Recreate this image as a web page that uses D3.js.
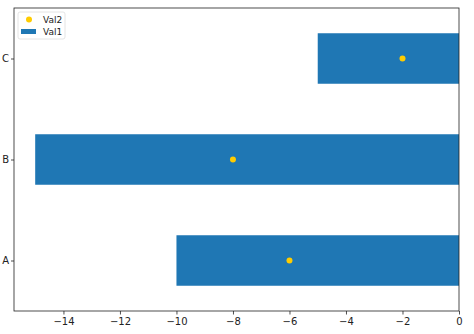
<!DOCTYPE html>
<html><head><meta charset="utf-8">
<script src="https://cdn.jsdelivr.net/npm/d3@7"></script>
<style>body{margin:0;background:#fff}svg{display:block}text{font-family:"DejaVu Sans",sans-serif}</style>
</head><body>
<script>
const categories = ["A","B","C"];
const val1 = [-10, -15, -5];
const val2 = [-6, -8, -2];
const xTicks = [-14,-12,-10,-8,-6,-4,-2,0];

const W=474,H=334;
const m={l:14,r:15,t:8,b:23};
const svg=d3.select("body").append("svg").attr("width",W).attr("height",H);
const x=d3.scaleLinear().domain([-15.75,0]).range([m.l,W-m.r]);
const y=d3.scaleLinear().domain([-0.5,2.5]).range([H-m.b,m.t]);
const bh=0.5;

svg.append("g").selectAll("rect").data(categories).join("rect")
  .attr("x",(d,i)=>x(val1[i])).attr("width",(d,i)=>x(0)-x(val1[i]))
  .attr("y",(d,i)=>y(i+bh/2)).attr("height",(d,i)=>y(i-bh/2)-y(i+bh/2))
  .attr("fill","#1f77b4");

svg.append("g").selectAll("circle").data(categories).join("circle")
  .attr("cx",(d,i)=>x(val2[i])).attr("cy",(d,i)=>y(i)).attr("r",3)
  .attr("fill","#ffcc00");

const xa=svg.append("g").attr("transform",`translate(0,${H-m.b})`)
  .call(d3.axisBottom(x).tickValues(xTicks).tickSize(3.5).tickPadding(3.5).tickFormat(d=>d<0?"\u2212"+Math.abs(d):d));
const ya=svg.append("g").attr("transform",`translate(${m.l},0)`)
  .call(d3.axisLeft(y).tickValues([0,1,2]).tickSize(3).tickPadding(2).tickFormat(d=>categories[d]));
[xa,ya].forEach(a=>{a.select(".domain").remove();a.selectAll("text").attr("font-size",10).attr("fill","#222").attr("font-family","DejaVu Sans");a.selectAll("line").attr("stroke","#222").attr("stroke-width",0.8);});

svg.append("rect").attr("x",m.l).attr("y",m.t).attr("width",W-m.l-m.r).attr("height",H-m.t-m.b)
  .attr("fill","none").attr("stroke","#222").attr("stroke-width",0.8);

// legend
const lg=svg.append("g").attr("transform","translate(18,12)");
lg.append("rect").attr("width",47).attr("height",27).attr("rx",2).attr("fill","#fff").attr("stroke","#ddd").attr("stroke-width",0.8);
lg.append("circle").attr("cx",11).attr("cy",7.5).attr("r",3).attr("fill","#ffcc00");
lg.append("rect").attr("x",3).attr("y",17).attr("width",15).attr("height",5).attr("fill","#1f77b4");
lg.append("text").attr("x",25).attr("y",11).attr("font-size",9).attr("fill","#222").text("Val2");
lg.append("text").attr("x",25).attr("y",23).attr("font-size",9).attr("fill","#222").text("Val1");
</script>
</body></html>
